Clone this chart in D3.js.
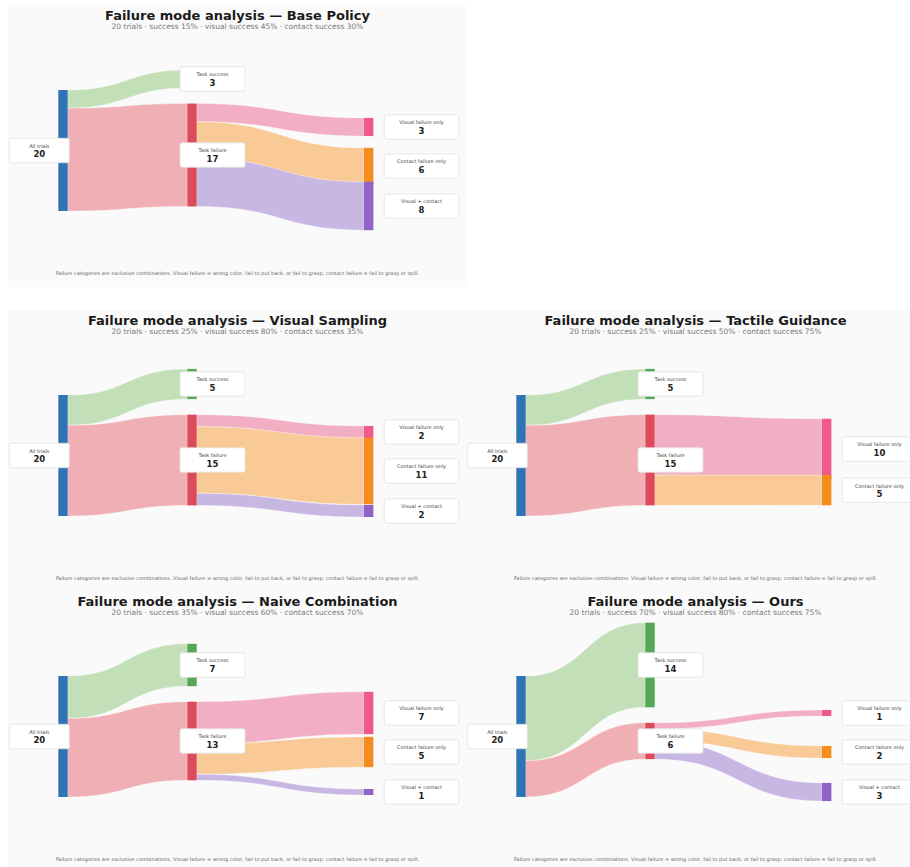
<!DOCTYPE html>
<html><head><meta charset="utf-8">
<script src="https://cdn.jsdelivr.net/npm/d3@7"></script>
<style>
html,body{margin:0;padding:0;background:#ffffff;}
svg{display:block;font-family:"DejaVu Sans",sans-serif;}
</style></head><body>
<svg id="chart" width="910" height="867"></svg>
<script>
// ---------------- data ----------------
const methods = ["Base Policy", "Visual Sampling", "Tactile Guidance", "Naive Combination", "Ours"];
const trials = [20, 20, 20, 20, 20];
const taskSuccess = [3, 5, 5, 7, 14];
const visualOnly = [3, 2, 10, 7, 1];
const contactOnly = [6, 11, 5, 5, 2];
const visualContact = [8, 2, 0, 1, 3];
const nodeNames = ["All trials", "Task success", "Task failure", "Visual failure only", "Contact failure only", "Visual + contact"];
const footnote = "Failure categories are exclusive combinations. Visual failure = wrong color, fail to put back, or fail to grasp; contact failure = fail to grasp or spill.";

// ---------------- layout / style ----------------
const PANEL_W = 459, PANEL_H = 282;
const colOrigins = [8, 466];
const rowOrigins = [5, 310, 591];
const gridCells = [[0, 0], [1, 0], [1, 1], [2, 0], [2, 1]]; // [row, col] per method
const nodeColX = [50.3, 179.3, 356];
const nodeW = 9.4;
const boxX = [[1.3, 60], [172, 65], [376.3, 74.4]];
const boxH = 24.4;
const centerY = { all: 145.5, success: 74, failure: 150 };
const rightCenters = { 3: [122, 161, 201], 2: [139, 180.2], 1: [150] };

const nodeColor = ["#2f74b5", "#56a756", "#dc4a5b", "#ee5a8a", "#f28d1e", "#9063c6"];
const linkColor = ["#c3dfb8", "#f0afb5", "#f2aec3", "#f9c996", "#c9b7e3"];

const svg = d3.select("#chart");

const vScale = d3.scaleLinear().domain([0, 20]).range([0, 121]);

function linkPath(l) {
  const x0 = l.source.x1, x1 = l.target.x0, xm = (x0 + x1) / 2;
  return `M${x0},${l.sy0}C${xm},${l.sy0} ${xm},${l.ty0} ${x1},${l.ty0}` +
         `L${x1},${l.ty1}C${xm},${l.ty1} ${xm},${l.sy1} ${x0},${l.sy1}Z`;
}

methods.forEach((m, i) => {
  const [r, c] = gridCells[i];
  const g = svg.append("g").attr("transform", `translate(${colOrigins[c]},${rowOrigins[r]})`);
  g.append("rect").attr("width", PANEL_W).attr("height", PANEL_H).attr("fill", "#fafafa");

  const failure = trials[i] - taskSuccess[i];
  const nodes = [];
  const mk = (idx, col, value, cy) => {
    const h = vScale(value);
    const n = { idx, col, value, name: nodeNames[idx], x0: nodeColX[col], x1: nodeColX[col] + nodeW,
      y0: cy - h / 2, y1: cy + h / 2, cy, out: 0, inn: 0 };
    nodes.push(n); return n;
  };
  const nAll = mk(0, 0, trials[i], centerY.all);
  const nSucc = mk(1, 1, taskSuccess[i], centerY.success);
  const nFail = mk(2, 1, failure, centerY.failure);
  const rightVals = [[3, visualOnly[i]], [4, contactOnly[i]], [5, visualContact[i]]].filter(d => d[1] > 0);
  const rc = rightCenters[rightVals.length];
  const rightNodes = rightVals.map((d, k) => mk(d[0], 2, d[1], rc[k]));

  const links = [];
  const addLink = (s, t, v, color) => {
    const h = vScale(v);
    const l = { source: s, target: t, value: v, color,
      sy0: s.y0 + s.out, sy1: s.y0 + s.out + h, ty0: t.y0 + t.inn, ty1: t.y0 + t.inn + h };
    s.out += h; t.inn += h; links.push(l);
  };
  addLink(nAll, nSucc, taskSuccess[i], linkColor[0]);
  addLink(nAll, nFail, failure, linkColor[1]);
  rightNodes.forEach(n => addLink(nFail, n, n.value, linkColor[n.idx - 1]));

  g.append("g").selectAll("path").data(links).join("path")
    .attr("d", linkPath).attr("fill", d => d.color)
    .attr("stroke", "#fafafa").attr("stroke-width", 0.4);

  g.append("g").selectAll("rect").data(nodes).join("rect")
    .attr("x", d => d.x0).attr("y", d => d.y0)
    .attr("width", d => d.x1 - d.x0).attr("height", d => d.y1 - d.y0)
    .attr("fill", d => nodeColor[d.idx]);

  const boxes = g.append("g").selectAll("g").data(nodes).join("g")
    .attr("transform", d => `translate(${boxX[d.col][0]},${d.cy - boxH / 2})`);
  boxes.append("rect").attr("width", d => boxX[d.col][1]).attr("height", boxH)
    .attr("rx", 2).attr("fill", "#ffffff").attr("stroke", "#e2e2e2").attr("stroke-width", 0.8);
  boxes.append("text").attr("x", d => boxX[d.col][1] / 2).attr("y", 9.5)
    .attr("text-anchor", "middle").attr("font-size", 5).attr("fill", "#444")
    .text(d => d.name);
  boxes.append("text").attr("x", d => boxX[d.col][1] / 2).attr("y", 19.2)
    .attr("text-anchor", "middle").attr("font-size", 8.5).attr("font-weight", "bold").attr("fill", "#222")
    .text(d => d.value);

  const pct = v => Math.round(100 * v / trials[i]) + "%";
  const visSucc = trials[i] - visualOnly[i] - visualContact[i];
  const conSucc = trials[i] - contactOnly[i] - visualContact[i];
  g.append("text").attr("x", PANEL_W / 2).attr("y", 15).attr("text-anchor", "middle")
    .attr("font-size", 13).attr("font-weight", "bold").attr("fill", "#1a1a1a")
    .text(`Failure mode analysis — ${m}`);
  g.append("text").attr("x", PANEL_W / 2).attr("y", 23.8).attr("text-anchor", "middle")
    .attr("font-size", 7.5).attr("fill", "#777")
    .text(`${trials[i]} trials · success ${pct(taskSuccess[i])} · visual success ${pct(visSucc)} · contact success ${pct(conSucc)}`);
  g.append("text").attr("x", PANEL_W / 2).attr("y", 270.3).attr("text-anchor", "middle")
    .attr("font-size", 5).attr("fill", "#666").text(footnote);
});
</script>
</body></html>
